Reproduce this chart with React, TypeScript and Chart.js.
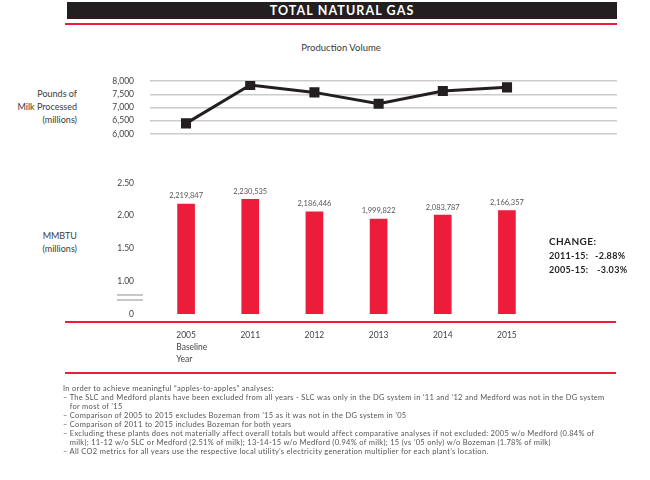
import React, { useEffect, useRef } from "react";
import { Chart, registerables } from "chart.js";

Chart.register(...registerables);

// ---------- data ----------
const years = ["2005", "2011", "2012", "2013", "2014", "2015"];
const yearSubLabels: string[][] = [["Baseline", "Year"], [], [], [], [], []];
const milkProcessed = [6400, 7850, 7570, 7140, 7620, 7760]; // pounds, millions
const milkTicks = [6000, 6500, 7000, 7500, 8000];
const mmbtuBars = [2.18, 2.25, 2.06, 1.95, 2.01, 2.08]; // MMBTU millions, as drawn
const mmbtuLabels = ["2,219,847", "2,230,535", "2,186,446", "1,999,822", "2,083,787", "2,166,357"];
const mmbtuTicks = [0.5, 1.0, 1.5, 2.0, 2.5]; // broken axis: lowest tick shown as "0"
const changeRows = [
  ["2011-15:", "-2.88%"],
  ["2005-15:", "-3.03%"],
];
const footnotes = [
  "In order to achieve meaningful \u201capples-to-apples\u201d analyses:",
  "\u2013 The SLC and Medford plants have been excluded from all years - SLC was only in the DG system in \u201911 and \u201912 and Medford was not in the DG system",
  "   for most of \u201915",
  "\u2013 Comparison of 2005 to 2015 excludes Bozeman from \u201915 as it was not in the DG system in \u201905",
  "\u2013 Comparison of 2011 to 2015 includes Bozeman for both years",
  "\u2013 Excluding these plants does not materially affect overall totals but would affect comparative analyses if not excluded: 2005 w/o Medford (0.84% of",
  "   milk); 11-12 w/o SLC or Medford (2.51% of milk); 13-14-15 w/o Medford (0.94% of milk); 15 (vs \u201905 only) w/o Bozeman (1.78% of milk)",
  "\u2013 All CO2 metrics for all years use the respective local utility\u2019s electricity generation multiplier for each plant\u2019s location.",
];

const FONT = "Lato, 'Open Sans', sans-serif";
const RED = "#ec1c3a";
const DARK = "#231f20";

type TProps = {
  x: number;
  y: number;
  align?: "left" | "right" | "center";
  size: number;
  weight?: number;
  color?: string;
  ls?: number;
  children: React.ReactNode;
};

const T = ({ x, y, align = "left", size, weight = 400, color = "#3a3a3a", ls = 0, children }: TProps) => {
  const style: React.CSSProperties = {
    position: "absolute",
    top: y - 10,
    height: 20,
    lineHeight: "20px",
    fontSize: size,
    fontWeight: weight,
    color,
    whiteSpace: "pre",
    letterSpacing: ls,
  };
  if (align === "left") style.left = x;
  else if (align === "right") style.right = 650 - x;
  else {
    style.left = x - 300;
    style.width = 600;
    style.textAlign = "center";
  }
  return <div style={style}>{children}</div>;
};

const barLabelsPlugin = {
  id: "barLabels",
  afterDatasetsDraw(chart: any) {
    const ctx = chart.ctx;
    const meta = chart.getDatasetMeta(0);
    ctx.save();
    ctx.font = `7.5px ${FONT}`;
    ctx.fillStyle = "#555555";
    ctx.textAlign = "center";
    ctx.textBaseline = "middle";
    meta.data.forEach((el: any, i: number) => {
      ctx.fillText(mmbtuLabels[i], el.x, el.y - 8);
    });
    const xs = chart.scales.x;
    const base = chart.chartArea.bottom + 21;
    ctx.font = `8.5px ${FONT}`;
    ctx.fillStyle = "#444444";
    ctx.textAlign = "left";
    years.forEach((yr, i) => {
      const cx = xs.getPixelForValue(i);
      const w = ctx.measureText(yr).width;
      [yr, ...yearSubLabels[i]].forEach((ln, j) => {
        ctx.fillText(ln, cx - w / 2, base + j * 12);
      });
    });
    ctx.restore();
  },
};

export default function App() {
  const lineRef = useRef<HTMLCanvasElement>(null);
  const barRef = useRef<HTMLCanvasElement>(null);

  useEffect(() => {
    const lineChart = new Chart(lineRef.current as HTMLCanvasElement, {
      type: "line",
      data: {
        datasets: [
          {
            data: milkProcessed.map((v, i) => ({ x: i, y: v })),
            borderColor: DARK,
            backgroundColor: DARK,
            borderWidth: 3,
            pointStyle: "rect",
            pointRadius: 5,
            pointHoverRadius: 5,
            tension: 0,
          },
        ],
      },
      options: {
        responsive: false,
        animation: false,
        events: [],
        layout: { autoPadding: false, padding: { top: 10, bottom: 10, left: 0, right: 33 } },
        plugins: { legend: { display: false }, tooltip: { enabled: false } },
        scales: {
          x: { type: "linear", display: false, min: -0.561, max: 6.713 },
          y: {
            min: 6000,
            max: 8000,
            afterFit: (s: any) => {
              s.width = 150;
            },
            afterBuildTicks: (s: any) => {
              s.ticks = milkTicks.map((v) => ({ value: v }));
            },
            grid: {
              color: "#cccccc",
              lineWidth: 1.5,
              drawTicks: true,
              tickLength: 16,
              tickColor: "rgba(0,0,0,0)",
            },
            border: { display: false },
            ticks: {
              padding: 0,
              color: "#444444",
              font: { family: FONT, size: 8.5 },
              callback: (v: any) => Number(v).toLocaleString("en-US"),
            },
          },
        },
      },
    } as any);

    const barChart = new Chart(barRef.current as HTMLCanvasElement, {
      type: "bar",
      data: {
        labels: years,
        datasets: [
          {
            data: mmbtuBars,
            backgroundColor: RED,
            borderWidth: 0,
            barThickness: 17,
          },
        ],
      },
      options: {
        responsive: false,
        animation: false,
        events: [],
        layout: { autoPadding: false, padding: { top: 30, bottom: 69, left: 0, right: 111 } },
        plugins: { legend: { display: false }, tooltip: { enabled: false } },
        scales: {
          x: { display: false },
          y: {
            min: 0.5,
            max: 2.5,
            afterFit: (s: any) => {
              s.width = 154;
            },
            afterBuildTicks: (s: any) => {
              s.ticks = mmbtuTicks.map((v) => ({ value: v }));
            },
            grid: { display: false, drawTicks: false },
            border: { display: false },
            ticks: {
              padding: 20,
              color: "#444444",
              font: { family: FONT, size: 8.5 },
              callback: (v: any) => (Number(v) === mmbtuTicks[0] ? "0" : Number(v).toFixed(2)),
            },
          },
        },
      },
      plugins: [barLabelsPlugin],
    } as any);

    return () => {
      lineChart.destroy();
      barChart.destroy();
    };
  }, []);

  return (
    <div
      style={{
        position: "absolute",
        left: 0,
        top: 0,
        width: 650,
        height: 480,
        background: "#ffffff",
        fontFamily: FONT,
        overflow: "hidden",
      }}
    >
      {/* title bar */}
      <div style={{ position: "absolute", left: 67, top: 2, width: 550, height: 17, background: DARK }} />
      <T x={342} y={11} align="center" size={12.5} weight={700} color="#ffffff" ls={1.1}>
        TOTAL NATURAL GAS
      </T>
      <div style={{ position: "absolute", left: 65, top: 23, width: 552, height: 2, background: RED }} />

      <T x={341} y={48} align="center" size={9.5} color="#3a3a3a">
        Production Volume
      </T>

      {/* left axis titles */}
      <T x={77} y={94} align="right" size={9}>Pounds of</T>
      <T x={77} y={107} align="right" size={9}>Milk Processed</T>
      <T x={77} y={120} align="right" size={9}>(millions)</T>
      <T x={77} y={236} align="right" size={9}>MMBTU</T>
      <T x={77} y={249} align="right" size={9}>(millions)</T>

      <canvas ref={lineRef} width={650} height={73} style={{ position: "absolute", left: 0, top: 71 }} />
      <canvas ref={barRef} width={650} height={230} style={{ position: "absolute", left: 0, top: 153 }} />

      {/* axis break marks */}
      <div style={{ position: "absolute", left: 117, top: 294, width: 26, height: 1.5, background: "#c8c8c8" }} />
      <div style={{ position: "absolute", left: 117, top: 299, width: 26, height: 1.5, background: "#c8c8c8" }} />

      {/* red rules */}
      <div style={{ position: "absolute", left: 65, top: 320.5, width: 551, height: 2, background: RED }} />
      <div style={{ position: "absolute", left: 65, top: 372, width: 551, height: 2, background: RED }} />

      {/* change box */}
      <T x={549} y={241} size={10} weight={700} color={DARK} ls={0.4}>CHANGE:</T>
      {changeRows.map((r, i) => (
        <React.Fragment key={r[0]}>
          <T x={549} y={256 + i * 14} size={9} weight={700} color={DARK} ls={0.3}>{r[0]}</T>
          <T x={595 + i * 2} y={256 + i * 14} size={9} weight={700} color={DARK} ls={0.3}>{r[1]}</T>
        </React.Fragment>
      ))}

      {/* footnotes */}
      {footnotes.map((f, i) => (
        <T key={i} x={63} y={389 + i * 9} size={7.5} color="#555555" ls={0.3}>
          {f}
        </T>
      ))}
    </div>
  );
}
